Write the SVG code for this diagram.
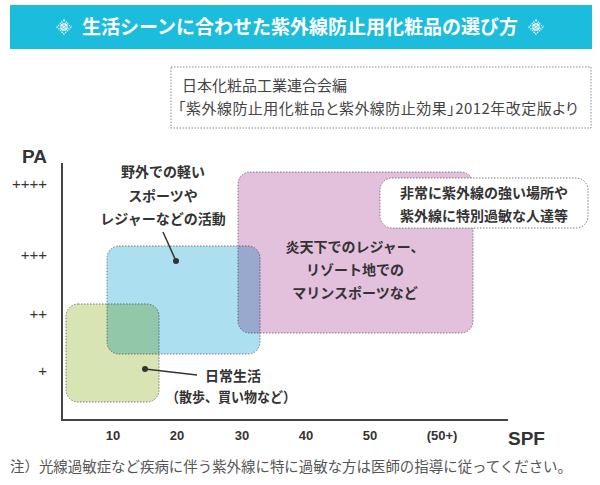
<svg xmlns="http://www.w3.org/2000/svg" width="600" height="485" viewBox="0 0 600 485">
<defs>
<style>
.jp{font-family:"Noto Sans CJK JP","Noto Sans CJK SC",sans-serif;}
.b{font-weight:bold;fill:#333;font-size:14px;}
.lat{font-family:"Liberation Sans",Arial,sans-serif;font-weight:bold;fill:#333;}
.tick{font-family:"Liberation Sans",Arial,sans-serif;fill:#333;font-size:15px;}
.area{stroke:#7a7a7a;stroke-width:1;stroke-dasharray:1.5 1.5;}
.ax{stroke:#444;stroke-width:2;fill:none;}
.lead{stroke:#333;stroke-width:1.5;fill:none;}
</style>
<g id="orn">
<path d="M0,-7 L7,0 L0,7 L-7,0 Z" fill="none" stroke="#fff" stroke-width="1.3" stroke-dasharray="1.4 1"/>
<circle r="3.2" fill="none" stroke="#fff" stroke-width="1.2"/>
<path d="M-2.2,-2.2 L2.2,2.2 M-2.2,2.2 L2.2,-2.2" stroke="#fff" stroke-width="1.1"/>
</g>
</defs>
<rect width="600" height="485" fill="#fff"/>
<g id="header">
<rect x="10" y="5" width="582" height="44" fill="#1cbcdd"/>
<use href="#orn" x="64" y="27"/>
<use href="#orn" x="536" y="27"/>
<text class="jp" x="300" y="34" text-anchor="middle" font-size="19" font-weight="bold" fill="#fff">生活シーンに合わせた紫外線防止用化粧品の選び方</text>
</g>
<g id="source">
<rect x="171" y="67" width="420" height="61" fill="none" stroke="#888" stroke-width="1" stroke-dasharray="1.5 1.5"/>
<text class="jp" x="182" y="91" font-size="15" fill="#444">日本化粧品工業連合会編</text>
<text class="jp" x="178" y="114" font-size="15" fill="#444" style="font-feature-settings:'palt'" textLength="400" lengthAdjust="spacing">「紫外線防止用化粧品と紫外線防止効果」2012年改定版より</text>
</g>
<g id="areas" style="isolation:isolate">
<rect id="daily" class="area" x="66" y="304" width="93" height="98" rx="12" fill="#d9e4b4"/>
<rect id="light" class="area" x="107" y="246" width="153" height="108" rx="12" fill="#acdff0" style="mix-blend-mode:multiply"/>
<rect id="strong" class="area" x="238" y="172" width="235" height="161" rx="12" fill="#e3c0dc" style="mix-blend-mode:multiply"/>
</g>
<g id="axes">
<path class="ax" d="M62,163 V420 H508"/>
<text class="lat" x="22" y="163" font-size="19">PA</text>
<text class="lat" x="508" y="445" font-size="19">SPF</text>
<g text-anchor="end">
<text class="tick" x="47" y="189">++++</text>
<text class="tick" x="47" y="260">+++</text>
<text class="tick" x="47" y="319">++</text>
<text class="tick" x="47" y="376">+</text>
</g>
<g text-anchor="middle">
<text class="lat" font-size="13" x="113" y="440">10</text>
<text class="lat" font-size="13" x="177" y="440">20</text>
<text class="lat" font-size="13" x="242" y="440">30</text>
<text class="lat" font-size="13" x="306" y="440">40</text>
<text class="lat" font-size="13" x="370" y="440">50</text>
<text class="lat" font-size="13" x="442" y="440">(50+)</text>
</g>
</g>
<g id="connectors">
<path class="lead" d="M163,232 L176,261"/>
<circle cx="176" cy="261" r="3" fill="#333"/>
<path class="lead" d="M145,369 L197,375"/>
<circle cx="145" cy="369" r="3" fill="#333"/>
</g>
<g id="label-light" class="jp b" text-anchor="middle">
<text x="163" y="177">野外での軽い</text>
<text x="163" y="201">スポーツや</text>
<text x="163" y="224">レジャーなどの活動</text>
</g>
<g id="label-strong" class="jp b" text-anchor="middle">
<text x="355" y="252">炎天下でのレジャー、</text>
<text x="355" y="275">リゾート地での</text>
<text x="355" y="298">マリンスポーツなど</text>
</g>
<g id="callout">
<rect class="area" x="380" y="178" width="208" height="50" rx="12" fill="#fff"/>
<text class="jp b" x="484" y="198" text-anchor="middle" font-size="15">非常に紫外線の強い場所や</text>
<text class="jp b" x="484" y="221" text-anchor="middle" font-size="15">紫外線に特別過敏な人達等</text>
</g>
<g id="label-daily" class="jp b">
<text x="205" y="381">日常生活</text>
<text x="166" y="402" textLength="130" lengthAdjust="spacingAndGlyphs">（散歩、買い物など）</text>
</g>
<text id="note" class="jp" x="10" y="472" font-size="14.5" fill="#555" textLength="562" lengthAdjust="spacingAndGlyphs">注）光線過敏症など疾病に伴う紫外線に特に過敏な方は医師の指導に従ってください。</text>
</svg>
